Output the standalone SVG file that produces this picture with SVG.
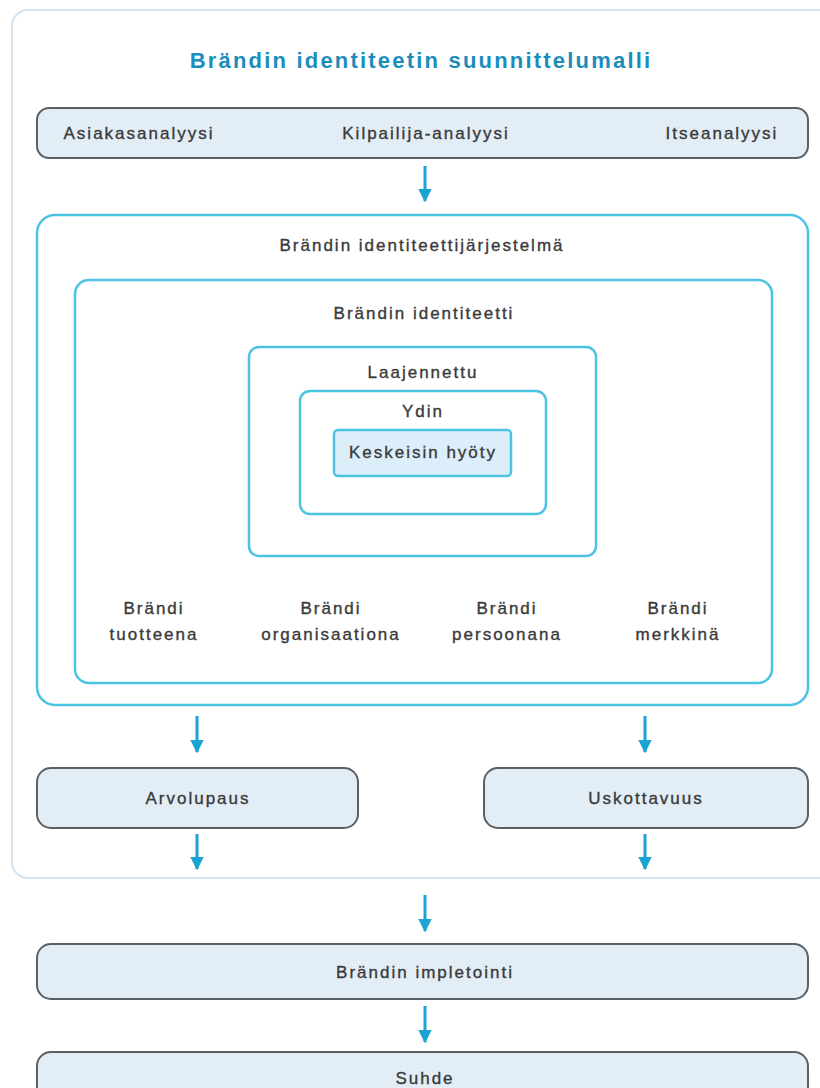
<svg xmlns="http://www.w3.org/2000/svg" width="820" height="1088" viewBox="0 0 820 1088">
<defs>
<style>
.t{font-family:"Liberation Sans",Arial,sans-serif;font-size:17px;fill:#3a3a3a;stroke:#3a3a3a;stroke-width:0.35;text-anchor:middle;letter-spacing:2px;dominant-baseline:central}
.title{font-family:"Liberation Sans",Arial,sans-serif;font-size:22px;font-weight:bold;fill:#1b8dbb;text-anchor:middle;letter-spacing:2.2px;dominant-baseline:central}
.grey{fill:#e2edf6;stroke:#5a6066;stroke-width:2}
.cy{fill:#fff;stroke:#4cc3e3;stroke-width:2.5}
.ar{stroke:#1ba3d2;stroke-width:3;fill:none;marker-end:url(#ah)}
</style>
<marker id="ah" viewBox="0 0 10 10" refX="9" refY="5" markerWidth="4.5" markerHeight="4.5" orient="auto" markerUnits="strokeWidth">
<path d="M0,0 L10,5 L0,10 z" fill="#1ba3d2"/>
</marker>
</defs>
<rect width="820" height="1088" fill="#fff"/>
<g id="frame">
<rect x="12" y="10" width="840" height="868" rx="16" fill="#fff" stroke="#d5e3ee" stroke-width="2"/>
<text class="title" x="421" y="60">Brändin identiteetin suunnittelumalli</text>
</g>
<g id="analyysit">
<rect class="grey" x="37" y="108" width="771" height="50" rx="12"/>
<text class="t" x="139" y="133">Asiakasanalyysi</text>
<text class="t" x="426" y="133">Kilpailija-analyysi</text>
<text class="t" x="722" y="133">Itseanalyysi</text>
</g>
<g id="jarjestelma">
<rect class="cy" x="37" y="215" width="771" height="490" rx="18"/>
<text class="t" x="422" y="245">Brändin identiteettijärjestelmä</text>
</g>
<g id="identiteetti">
<rect class="cy" x="75" y="280" width="697" height="403" rx="14"/>
<text class="t" x="424" y="313">Brändin identiteetti</text>
</g>
<g id="laajennettu">
<rect class="cy" x="249" y="347" width="347" height="209" rx="10"/>
<text class="t" x="423" y="372">Laajennettu</text>
</g>
<g id="ydin">
<rect class="cy" x="300" y="391" width="246" height="123" rx="10"/>
<text class="t" x="423" y="411">Ydin</text>
</g>
<g id="hyoty">
<rect x="334" y="430" width="177" height="46" rx="4" fill="#dceefa" stroke="#4cc3e3" stroke-width="2.5"/>
<text class="t" x="423" y="452">Keskeisin hyöty</text>
</g>
<g id="tuotteena"><text class="t" x="154" y="608">Brändi</text><text class="t" x="154" y="634">tuotteena</text></g>
<g id="organisaationa"><text class="t" x="331" y="608">Brändi</text><text class="t" x="331" y="634">organisaationa</text></g>
<g id="persoonana"><text class="t" x="507" y="608">Brändi</text><text class="t" x="507" y="634">persoonana</text></g>
<g id="merkkina"><text class="t" x="678" y="608">Brändi</text><text class="t" x="678" y="634">merkkinä</text></g>
<g id="arvolupaus">
<rect class="grey" x="37" y="768" width="321" height="60" rx="14"/>
<text class="t" x="198" y="798">Arvolupaus</text>
</g>
<g id="uskottavuus">
<rect class="grey" x="484" y="768" width="324" height="60" rx="14"/>
<text class="t" x="646" y="798">Uskottavuus</text>
</g>
<g id="impletointi">
<rect class="grey" x="37" y="944" width="771" height="55" rx="14"/>
<text class="t" x="425" y="972">Brändin impletointi</text>
</g>
<g id="suhde">
<rect class="grey" x="37" y="1052" width="771" height="60" rx="14"/>
<text class="t" x="425" y="1078">Suhde</text>
</g>
<g id="connectors">
<line class="ar" x1="425" y1="166" x2="425" y2="201"/>
<line class="ar" x1="197" y1="716" x2="197" y2="752"/>
<line class="ar" x1="645" y1="716" x2="645" y2="752"/>
<line class="ar" x1="197" y1="834" x2="197" y2="869"/>
<line class="ar" x1="645" y1="834" x2="645" y2="869"/>
<line class="ar" x1="425" y1="895" x2="425" y2="931"/>
<line class="ar" x1="425" y1="1006" x2="425" y2="1042"/>
</g>
</svg>
